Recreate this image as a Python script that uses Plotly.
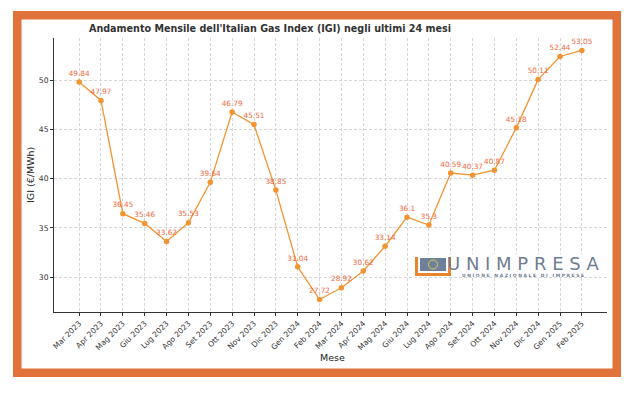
import plotly.graph_objects as go

months = ["Mar 2023", "Apr 2023", "Mag 2023", "Giu 2023", "Lug 2023", "Ago 2023",
          "Set 2023", "Ott 2023", "Nov 2023", "Dic 2023", "Gen 2024", "Feb 2024",
          "Mar 2024", "Apr 2024", "Mag 2024", "Giu 2024", "Lug 2024", "Ago 2024",
          "Set 2024", "Ott 2024", "Nov 2024", "Dic 2024", "Gen 2025", "Feb 2025"]
igi = [49.84, 47.97, 36.45, 35.46, 33.62, 35.53, 39.64, 46.79, 45.51, 38.85,
       31.04, 27.72, 28.92, 30.62, 33.14, 36.1, 35.3, 40.59, 40.37, 40.87,
       45.18, 50.11, 52.44, 53.05]
labels = [f"{v:g}" for v in igi]

W, H = 640, 393
L, R, T, B = 54, 607, 38, 312  # plot area in pixels

def px(x):
    return x / W

def py(y):
    return 1 - y / H

LINE = "#f39432"
LABEL = "#f2683c"
FRAME = "#e0723a"
FONT = "DejaVu Sans"

fig = go.Figure()
fig.add_trace(go.Scatter(
    x=list(range(len(months))), y=igi, mode="lines+markers+text",
    line=dict(color=LINE, width=1.3), marker=dict(color=LINE, size=5.5),
    text=labels, textposition="top center",
    textfont=dict(color=LABEL, size=7.3, family=FONT),
    cliponaxis=False, showlegend=False, hoverinfo="skip",
))

def rect_pts(xa, xb, ya, yb):
    return [xa, xb, xb, xa, xa, None], [ya, ya, yb, yb, ya, None]

def polys(rects):
    xs, ys = [], []
    for r in rects:
        a, b = rect_pts(*r)
        xs += a
        ys += b
    return xs, ys

# logo on a full-page pixel subplot (x2/y2), drawn above the main grid
wx, wy = polys([(412, 598, 254, 277)])
fig.add_trace(go.Scatter(x=wx, y=wy, xaxis="x2", yaxis="y2", mode="lines",
                         fill="toself", fillcolor="white", line=dict(width=0, color="white"),
                         showlegend=False, hoverinfo="skip"))
fig.add_trace(go.Scatter(x=[416.5, 416.5, 449.5, 449.5], y=[257, 274.5, 274.5, 257],
                         xaxis="x2", yaxis="y2", mode="lines",
                         line=dict(width=3, color="#e8852f"),
                         showlegend=False, hoverinfo="skip"))
bx, by = polys([(420, 446, 258, 271)])
fig.add_trace(go.Scatter(x=bx, y=by, xaxis="x2", yaxis="y2", mode="lines",
                         fill="toself", fillcolor="#6f819a", line=dict(width=0, color="#6f819a"),
                         showlegend=False, hoverinfo="skip"))
fig.add_trace(go.Scatter(x=[433], y=[264.5], xaxis="x2", yaxis="y2", mode="markers",
                         marker=dict(size=9, color="rgba(0,0,0,0)",
                                     line=dict(color="#e0c84a", width=1)),
                         showlegend=False, hoverinfo="skip"))

# frame: orange paper, white areas drawn beneath the subplots
def white(xa, xb, ya, yb):
    return dict(type="rect", xref="paper", yref="paper",
                x0=px(xa), x1=px(xb), y0=py(yb), y1=py(ya),
                fillcolor="white", line=dict(width=0), layer="below")

shapes = [white(0, W, 0, 11), white(0, W, 377, H), white(0, 13, 0, H), white(621, W, 0, H),
          white(21.5, 612.5, 19.5, 368.5)]

annotations = []
annotations.append(dict(text="<b>Andamento Mensile dell'Italian Gas Index (IGI) negli ultimi 24 mesi</b>",
                        xref="paper", yref="paper", x=px(270), y=py(29),
                        xanchor="center", yanchor="middle", showarrow=False,
                        font=dict(size=9.6, color="#333333", family=FONT)))
annotations.append(dict(text="IGI (€/MWh)", xref="paper", yref="paper", x=px(30), y=py(175),
                        xanchor="center", yanchor="middle", showarrow=False, textangle=-90,
                        font=dict(size=9.5, color="#222222", family=FONT)))
annotations.append(dict(text="Mese", xref="paper", yref="paper", x=px(332), y=py(357),
                        xanchor="center", yanchor="middle", showarrow=False,
                        font=dict(size=9.5, color="#222222", family=FONT)))
annotations.append(dict(text="U N I M P R E S A", xref="paper", yref="paper",
                        x=px(523), y=py(263), xanchor="center", yanchor="middle",
                        showarrow=False, height=14, borderpad=0,
                        font=dict(size=18, color="#6f7d93", family=FONT)))
annotations.append(dict(text="<b>U N I O N E   N A Z I O N A L E   D I   I M P R E S E</b>",
                        xref="paper", yref="paper", x=px(523), y=py(274.5),
                        xanchor="center", yanchor="middle", showarrow=False,
                        height=4, borderpad=0,
                        font=dict(size=4.5, color="#6f7d93", family=FONT)))

axis_common = dict(showline=True, linecolor="#333333", linewidth=1,
                   ticks="outside", ticklen=3, tickcolor="#333333",
                   showgrid=True, gridcolor="#d6d6d6", griddash="3px,2px", gridwidth=0.8,
                   zeroline=False, automargin=False)

fig.update_layout(
    width=W, height=H,
    margin=dict(l=0, r=0, t=0, b=0),
    paper_bgcolor=FRAME, plot_bgcolor="rgba(0,0,0,0)",
    font=dict(family=FONT, color="#333333"),
    shapes=shapes, annotations=annotations, showlegend=False,
    xaxis=dict(domain=[L / W, R / W], range=[-1.15, 24.15], tickmode="array",
               tickvals=list(range(len(months))), ticktext=months, tickangle=-45,
               tickfont=dict(size=7.6, color="#333333"), **axis_common),
    yaxis=dict(domain=[1 - B / H, 1 - T / H], range=[26.45, 54.32],
               tickvals=[30, 35, 40, 45, 50],
               tickfont=dict(size=7.6, color="#333333"), **axis_common),
    xaxis2=dict(domain=[0, 1], range=[0, W], visible=False, anchor="y2", fixedrange=True),
    yaxis2=dict(domain=[0, 1], range=[H, 0], visible=False, anchor="x2", fixedrange=True),
)

fig.write_html("out.html", config={"displayModeBar": False},
               post_script="document.body.style.margin='0';")
